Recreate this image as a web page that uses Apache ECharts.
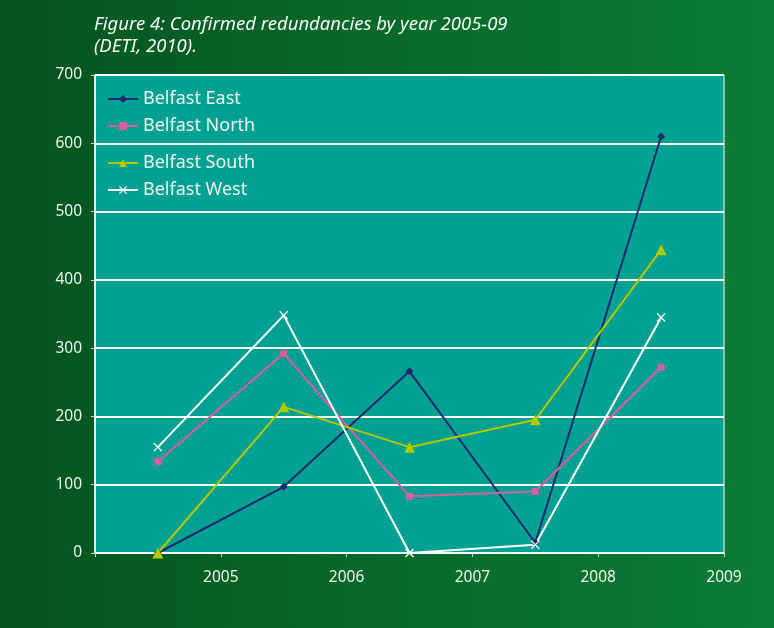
<!DOCTYPE html>
<html>
<head>
<meta charset="utf-8">
<script src="https://cdn.jsdelivr.net/npm/echarts@6/dist/echarts.min.js"></script>
<style>
  html, body { margin: 0; padding: 0; }
  #chart { width: 774px; height: 628px; }
</style>
</head>
<body>
<div id="chart"></div>
<script>
// Confirmed redundancies per Belfast constituency, 2005-09
const years = ['2005', '2006', '2007', '2008', '2009'];
const yearTicks = [2005, 2006, 2007, 2008, 2009];
const belfastEast = [0, 97, 266, 15, 610];
const belfastNorth = [134, 292, 83, 90, 272];
const belfastSouth = [0, 214, 155, 195, 444];
const belfastWest = [155, 348, 0, 12, 345];

const FONT = '"Noto Sans", "Open Sans", sans-serif';
const TEXT = '#eef4ee';
const crossPath = 'path://M0,1L1,0L5,4L9,0L10,1L6,5L10,9L9,10L5,6L1,10L0,9L4,5Z';

const chart = echarts.init(document.getElementById('chart'));

function lineSeries(name, data, color, symbol, size) {
  return {
    name: name,
    type: 'line',
    data: data,
    xAxisIndex: 0,
    symbol: symbol,
    symbolSize: size,
    showSymbol: true,
    lineStyle: { color: color, width: 2 },
    itemStyle: { color: color },
    emphasis: { disabled: true },
    animation: false,
    z: 3
  };
}

const legendText = { color: TEXT, fontFamily: FONT, fontSize: 18 };

chart.setOption({
  backgroundColor: {
    type: 'linear', x: 0, y: 0, x2: 1, y2: 0,
    colorStops: [
      { offset: 0, color: '#05531f' },
      { offset: 0.5, color: '#08692b' },
      { offset: 1, color: '#0b7c36' }
    ]
  },
  title: {
    text: 'Figure 4: Confirmed redundancies by year 2005-09\n(DETI, 2010).',
    left: 89,
    top: 9,
    textStyle: {
      color: '#f4f8f4',
      fontFamily: FONT,
      fontStyle: 'italic',
      fontWeight: 'normal',
      fontSize: 18.5,
      lineHeight: 22
    }
  },
  grid: {
    left: 95, right: 50, top: 75, bottom: 75,
    show: true,
    backgroundColor: '#00a193',
    borderColor: '#ffffff',
    borderWidth: 1
  },
  legend: [
    {
      data: ['Belfast East', 'Belfast North'],
      orient: 'vertical',
      left: 102, top: 85,
      itemWidth: 30, itemHeight: 10, itemGap: 9,
      textStyle: legendText,
      selectedMode: false
    },
    {
      data: ['Belfast South', 'Belfast West'],
      orient: 'vertical',
      left: 102, top: 149,
      itemWidth: 30, itemHeight: 10, itemGap: 9,
      textStyle: legendText,
      selectedMode: false
    }
  ],
  xAxis: [
    {
      type: 'category',
      data: years,
      boundaryGap: true,
      axisLine: { show: false },
      axisTick: { show: false },
      axisLabel: { show: false }
    },
    {
      type: 'value',
      min: yearTicks[0] - 1,
      max: yearTicks[yearTicks.length - 1],
      interval: 1,
      position: 'bottom',
      axisLine: { show: true, onZero: false, lineStyle: { color: '#ffffff', width: 1.5 } },
      axisTick: { show: true, length: 4, lineStyle: { color: '#c8d8c8' } },
      splitLine: { show: false },
      axisLabel: {
        color: TEXT, fontFamily: FONT, fontSize: 15.5, margin: 17,
        formatter: v => (yearTicks.indexOf(v) >= 0 ? String(v) : '')
      }
    }
  ],
  yAxis: {
    type: 'value',
    min: 0, max: 700, interval: 100,
    axisLine: { show: true, lineStyle: { color: '#ffffff', width: 1.5 } },
    axisTick: { show: true, length: 4, lineStyle: { color: '#c8d8c8' } },
    splitLine: { show: true, lineStyle: { color: '#ffffff', width: 2 } },
    axisLabel: { color: TEXT, fontFamily: FONT, fontSize: 15.5, margin: 13 }
  },
  series: [
    lineSeries('Belfast East', belfastEast, '#1f2a6c', 'diamond', 8),
    lineSeries('Belfast North', belfastNorth, '#d85ea3', 'rect', 7),
    lineSeries('Belfast South', belfastSouth, '#b4c800', 'triangle', 11),
    lineSeries('Belfast West', belfastWest, '#ffffff', crossPath, 9)
  ]
});
</script>
</body>
</html>
